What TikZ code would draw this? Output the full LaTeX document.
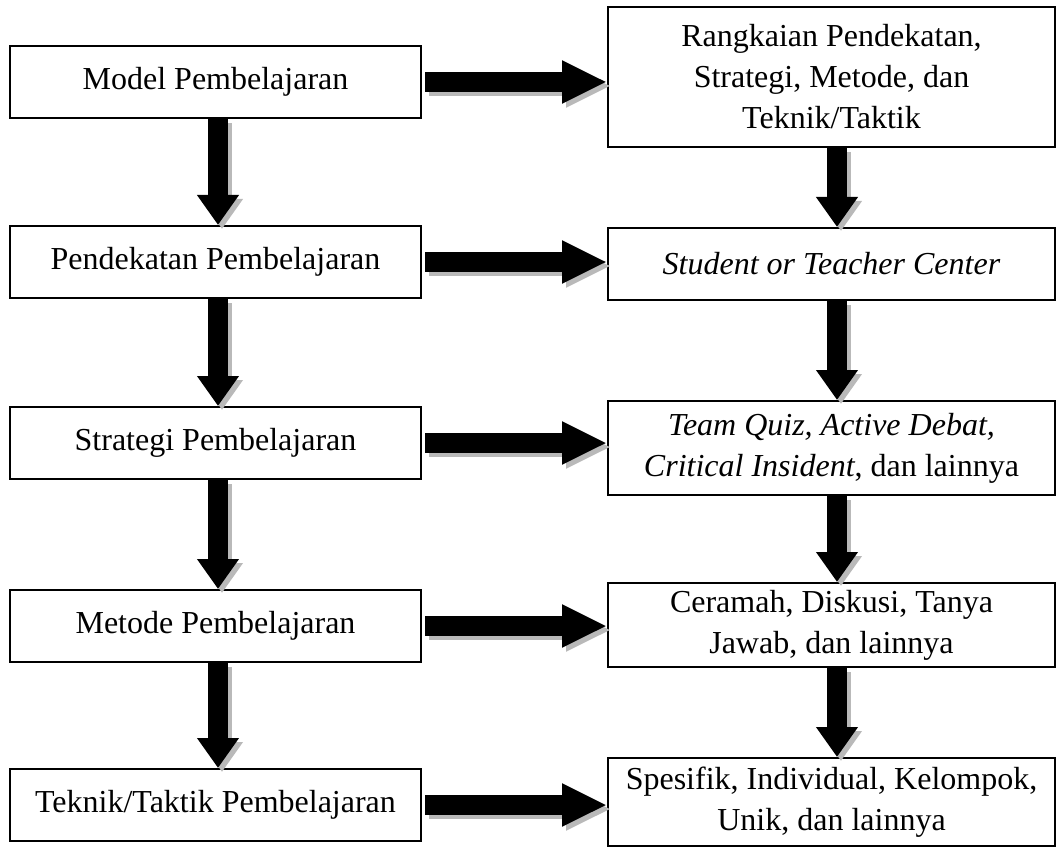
\documentclass[tikz,border=0pt]{standalone}
\usepackage{fontspec}
\setmainfont{Liberation Serif}
\usetikzlibrary{arrows.meta}

\tikzset{
  kotak/.style={draw, line width=1pt, align=center, inner sep=0pt,
    font=\fontsize{16}{20.5}\selectfont},
  kiri/.style={kotak, minimum width=205.5pt, minimum height=36pt},
  kanan/.style={kotak, minimum width=223.5pt},
  panah/.style={line width=10pt, -{Triangle[length=22.5pt, width=20pt]}},
  panahbawah/.style={line width=10pt, -{Triangle[length=15pt, width=20pt]}},
  bayang/.style={gray!55, transform canvas={xshift=2pt, yshift=-2pt}}
}

\begin{document}
\begin{tikzpicture}[x=0.5pt, y=-0.5pt]
  \useasboundingbox (0,0) rectangle (1059,850);

  % kolom kiri
  \node[kiri] (model) at (215.5,82) {Model Pembelajaran};
  \node[kiri] (pendekatan) at (215.5,262) {Pendekatan Pembelajaran};
  \node[kiri] (strategi) at (215.5,443) {Strategi Pembelajaran};
  \node[kiri] (metode) at (215.5,626) {Metode Pembelajaran};
  \node[kiri] (teknik) at (215.5,805) {Teknik/Taktik Pembelajaran};

  % kolom kanan
  \node[kanan, minimum height=70pt] (rangkaian) at (831.5,77)
    {Rangkaian Pendekatan,\\ Strategi, Metode, dan\\ Teknik/Taktik};
  \node[kanan, minimum height=36pt] (center) at (831.5,264)
    {\textit{Student or Teacher Center}};
  \node[kanan, minimum height=47pt] (teamquiz) at (831.5,448)
    {\textit{Team Quiz, Active Debat,}\\ \textit{Critical Insident}, dan lainnya};
  \node[kanan, minimum height=42pt] (ceramah) at (831.5,625)
    {Ceramah, Diskusi, Tanya\\ Jawab, dan lainnya};
  \node[kanan, minimum height=44pt] (spesifik) at (831.5,802)
    {Spesifik, Individual, Kelompok,\\ Unik, dan lainnya};

  % panah mendatar
  \foreach \a/\b in {model/rangkaian, pendekatan/center, strategi/teamquiz,
                     metode/ceramah, teknik/spesifik} {
    \draw[panah, bayang] ([xshift=1.5pt]\a.east) -- (\a.east -| \b.west);
    \draw[panah] ([xshift=1.5pt]\a.east) -- (\a.east -| \b.west);
  }

  % panah ke bawah
  \foreach \a/\b in {model/pendekatan, pendekatan/strategi, strategi/metode,
                     metode/teknik} {
    \draw[panahbawah, bayang] ([xshift=1.25pt]\a.south) -- ([xshift=1.25pt]\b.north);
    \draw[panahbawah] ([xshift=1.25pt]\a.south) -- ([xshift=1.25pt]\b.north);
  }
  \foreach \a/\b in {rangkaian/center, center/teamquiz, teamquiz/ceramah,
                     ceramah/spesifik} {
    \draw[panahbawah, bayang] ([xshift=2.75pt]\a.south) -- ([xshift=2.75pt]\b.north);
    \draw[panahbawah] ([xshift=2.75pt]\a.south) -- ([xshift=2.75pt]\b.north);
  }
\end{tikzpicture}
\end{document}
